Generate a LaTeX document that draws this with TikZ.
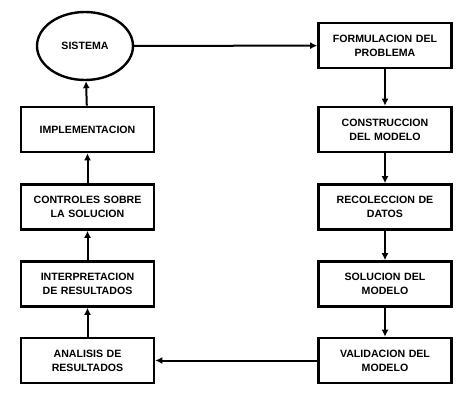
\documentclass[tikz,border=0pt]{standalone}
\usepackage{fontspec}
\setmainfont{Liberation Sans}
\usetikzlibrary{arrows.meta,shapes.geometric}

\begin{document}
\begin{tikzpicture}
		[x=1pt,y=-1pt,
		block/.style ={rectangle, draw=black, line width=2.6pt, text width=120pt, align=center, minimum width=133pt, minimum height=45pt, inner sep=0pt, font=\fontsize{10.6}{14}\selectfont\bfseries},
		sys/.style ={ellipse, draw=black, line width=2.4pt, minimum width=96pt, minimum height=68pt, inner sep=0pt, font=\fontsize{10.6}{14}\selectfont\bfseries},
		line/.style ={draw, line width=2pt, -{Latex[length=7pt,width=7pt]}},
		]
		\useasboundingbox (0,0) rectangle (474,406);

		\draw (85,46) node[sys] (S) {SISTEMA};

		\draw (385,45.5) node[block] (F) {FORMULACION DEL\\PROBLEMA};
		\draw (385,129.5) node[block] (C) {CONSTRUCCION\\DEL MODELO};
		\draw (385,207) node[block] (R) {RECOLECCION DE\\DATOS};
		\draw (385,284) node[block] (SO) {SOLUCION DEL\\MODELO};
		\draw (385,360.5) node[block] (V) {VALIDACION DEL\\MODELO};

		\draw (87.5,360.5) node[block] (A) {ANALISIS DE\\RESULTADOS};
		\draw (87.5,284) node[block] (I) {INTERPRETACION\\DE RESULTADOS};
		\draw (87.5,207) node[block] (CS) {CONTROLES SOBRE\\LA SOLUCION};
		\draw (87.5,129.5) node[block] (IM) {IMPLEMENTACION};

		\path[line]
		(S) edge (F)
		(F) edge (C)
		(C) edge (R)
		(R) edge (SO)
		(SO) edge (V)
		(V) edge (A)
		(A) edge (I)
		(I) edge (CS)
		(CS) edge (IM)
		(IM) edge (S);

	\end{tikzpicture}
\end{document}
